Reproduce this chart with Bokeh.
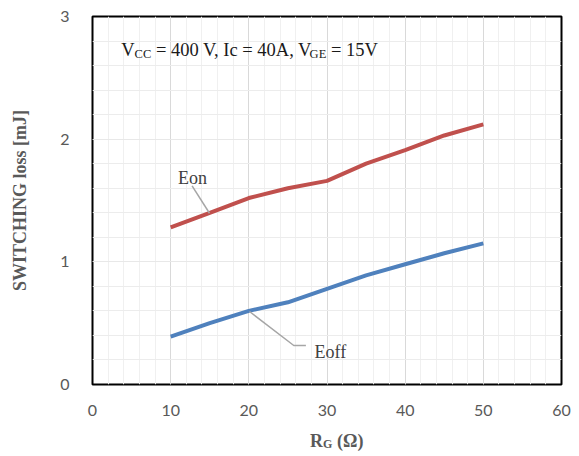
from bokeh.plotting import figure
from bokeh.layouts import column
from bokeh.models import Range1d, SingleIntervalTicker, Label
from bokeh.embed import file_html
from bokeh.resources import INLINE

# ---- data ----
rg = [10, 15, 20, 25, 30, 35, 40, 45, 50]
eon = [1.28, 1.40, 1.52, 1.60, 1.66, 1.80, 1.91, 2.03, 2.12]
eoff = [0.39, 0.50, 0.60, 0.67, 0.78, 0.89, 0.98, 1.07, 1.15]

x_ticks_interval = 10
y_ticks_interval = 1

SERIF = "Liberation Serif"
SANS = "Lato"
NB = "\u00a0"

W = 571
H1 = 420
H2 = 32
p = figure(width=W, height=H1, output_backend="svg", toolbar_location=None,
           x_range=Range1d(0, 60), y_range=Range1d(0, 3),
           min_border_left=92, min_border_right=10, min_border_top=16, min_border_bottom=36)
p.background_fill_color = "white"
p.border_fill_color = "white"
p.outline_line_color = "black"
p.outline_line_width = 2

p.xaxis.ticker = SingleIntervalTicker(interval=x_ticks_interval, num_minor_ticks=5)
p.yaxis.ticker = SingleIntervalTicker(interval=y_ticks_interval, num_minor_ticks=5)

for ax in (p.xaxis[0], p.yaxis[0]):
    ax.axis_line_color = None
    ax.major_tick_line_color = None
    ax.minor_tick_line_color = None
    ax.major_label_text_font = SANS
    ax.major_label_text_font_size = "16px"
    ax.major_label_text_color = "#595959"
p.xaxis.major_label_standoff = 14
p.yaxis.major_label_standoff = 17

p.yaxis.axis_label = "SWITCHING loss [mJ]"
p.yaxis.axis_label_text_font = SERIF
p.yaxis.axis_label_text_font_size = "18px"
p.yaxis.axis_label_text_font_style = "bold"
p.yaxis.axis_label_text_color = "#595959"
p.yaxis.axis_label_standoff = 27

p.xgrid.grid_line_color = "#d9d9d9"
p.xgrid.minor_grid_line_color = "#f0f0f0"
p.ygrid.grid_line_color = "#e8e8e8"
p.ygrid.minor_grid_line_color = "#ececec"

p.line(rg, eon, line_color="#c0504d", line_width=4)
p.line(rg, eoff, line_color="#4f81bd", line_width=4)

# leader lines
p.line([12.74, 14.97], [1.62, 1.396], line_color="#a6a6a6", line_width=1.5)
p.line([20.09, 25.75, 27.3], [0.595, 0.318, 0.318], line_color="#a6a6a6", line_width=1.5)

p.add_layout(Label(x=10.94, y=1.687, text="Eon", text_font=SERIF, text_font_size="18px",
                   text_color="#404040", text_baseline="alphabetic"))
p.add_layout(Label(x=28.4, y=0.263, text="Eoff", text_font=SERIF, text_font_size="18px",
                   text_color="#404040", text_baseline="alphabetic"))

# condition text with subscripts (screen units relative to frame bottom-left)
fh = H1 - 16 - 36
base = fh - 33.3
parts = [("V", 18.5, 0), ("CC", 12.5, -4), (NB + "=" + NB + "400 V, Ic = 40A, V", 18.5, 0),
         ("GE", 12.5, -4), (NB + "=" + NB + "15V", 18.5, 0)]
xs = [28.7, 42.1, 58.8, 217.1, 233.8]
for (t, fs, dy), x0 in zip(parts, xs):
    p.add_layout(Label(x=x0, y=base + dy, x_units="screen", y_units="screen", text=t,
                       text_font=SERIF, text_font_size=f"{fs}px", text_color="#1a1a1a",
                       text_baseline="alphabetic", text_align="left"))

# bottom strip carrying the x axis title R_G (Ω); its frame is aligned with the chart's
p2 = figure(width=W, height=H2, output_backend="svg", toolbar_location=None,
            x_range=Range1d(0, 60), y_range=Range1d(0, H2),
            x_axis_location=None, y_axis_location=None,
            min_border_left=92, min_border_right=10, min_border_top=0, min_border_bottom=0)
p2.title.visible = False
p2.outline_line_color = None
p2.grid.visible = False
p2.background_fill_color = "white"
p2.border_fill_color = "white"

yb = 12
for t, xo, dy, fs in [("R", 217.6, 0, 18), ("G", 230.6, -3.5, 12), (NB + "(Ω)", 240.0, 0, 18)]:
    p2.add_layout(Label(x=xo, y=yb + dy, x_units="screen", y_units="screen", text=t,
                        text_font=SERIF, text_font_size=f"{fs}px", text_font_style="bold",
                        text_color="#595959", text_baseline="alphabetic"))

layout = column(p, p2, spacing=0)
open("out.html", "w").write(file_html(layout, INLINE))
